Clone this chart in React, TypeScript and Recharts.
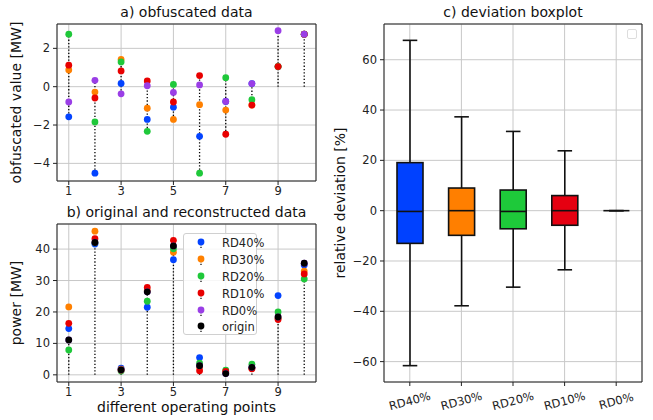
import React from 'react';
import {
  Bar,
  CartesianGrid,
  ComposedChart,
  ReferenceLine,
  Scatter,
  ScatterChart,
  XAxis,
  YAxis,
} from 'recharts';

// operating points 1..10
const points = [1, 2, 3, 4, 5, 6, 7, 8, 9, 10];

const seriesNames = ['RD40%', 'RD30%', 'RD20%', 'RD10%', 'RD0%'];
const seriesColors = ['#0343ff', '#ff8000', '#1fc83a', '#e80000', '#9a3ee6'];

// a) obfuscated data [MW]
const obfRD40 = [-1.57, -4.51, 0.17, -1.71, -1.07, -2.59, -0.77, 0.16, 1.05, 2.74];
const obfRD30 = [0.87, -0.28, 1.42, -1.12, -1.71, -0.94, -1.22, -0.96, 1.05, 2.74];
const obfRD20 = [2.74, -1.84, 1.29, -2.33, 0.12, -4.51, 0.47, -0.68, 1.05, 2.74];
const obfRD10 = [1.12, -0.59, 0.82, 0.3, -0.8, 0.58, -2.48, -0.96, 1.05, 2.74];
const obfRD0 = [-0.8, 0.33, -0.37, 0.05, -0.3, 0.09, -0.77, 0.16, 2.92, 2.74];

// b) original and reconstructed data [MW]
const recRD40 = [14.7, 41.6, 2.1, 21.5, 36.6, 5.5, 0.6, 2.2, 25.2, 34.9];
const recRD30 = [21.6, 45.7, 1.8, 26.8, 39.0, 2.5, 0.8, 2.0, 18.0, 33.0];
const recRD20 = [7.9, 42.0, 1.2, 23.4, 40.1, 3.7, 1.5, 3.4, 20.0, 30.5];
const recRD10 = [16.4, 43.3, 1.5, 27.8, 42.8, 1.3, 1.1, 1.9, 17.6, 32.1];
const recRD0 = [11.1, 42.1, 1.6, 26.4, 41.0, 2.9, 0.4, 2.4, 18.4, 35.5];
const origin = [11.1, 42.1, 1.6, 26.4, 41.0, 2.9, 0.4, 2.4, 18.4, 35.5];

// c) deviation boxplot [%]
const boxLabels = ['RD40%', 'RD30%', 'RD20%', 'RD10%', 'RD0%'];
const boxColors = ['#0041ff', '#ff7f00', '#1ec93a', '#e50011', '#ffffff'];
const whiskerLow = [-61.6, -37.8, -30.4, -23.5, 0];
const quart1 = [-13.0, -9.8, -7.2, -5.8, 0];
const medians = [-0.3, 0, -0.3, 0, 0];
const quart3 = [19.1, 9.0, 8.2, 6.0, 0];
const whiskerHigh = [67.7, 37.3, 31.5, 23.8, 0];

const FONT = '"DejaVu Sans", sans-serif';
const AXIS = '#222';
const GRID = '#c8c8c8';
const TICK = { fill: '#222', fontSize: 11.5 };
const minus = (v: number) => String(v).replace('-', '\u2212');

const toXY = (vals: number[]) => points.map((p, i) => ({ x: p, y: vals[i] }));

const dot = (color: string) => (p: any) =>
  <circle cx={p.cx} cy={p.cy} r={3.4} fill={color} />;

const obfSeries = [obfRD40, obfRD30, obfRD20, obfRD10, obfRD0];
const recSeries = [recRD40, recRD30, recRD20, recRD10, recRD0];

// stem extents (from 0 to the extreme values)
const obfStems = points.map((p, i) => {
  const vals = obfSeries.map(s => s[i]);
  return { x: p, lo: Math.min(0, ...vals), hi: Math.max(0, ...vals) };
});

const frameAxes = (domX: [number, number], domY: [number, number]) => [
  <XAxis key="top" xAxisId="top" orientation="top" mirror type="number"
    domain={domX} tick={false} tickLine={false} axisLine={{ stroke: AXIS }} />,
  <YAxis key="right" yAxisId="right" orientation="right" mirror type="number"
    domain={domY} tick={false} tickLine={false} axisLine={{ stroke: AXIS }} />,
];

const ObfuscatedChart = () => (
  <ScatterChart width={330} height={200} margin={{ top: 24, right: 14, bottom: 0, left: 0 }}>
    <CartesianGrid stroke={GRID} strokeWidth={1} />
    <XAxis type="number" dataKey="x" domain={[0.55, 10.45]} ticks={[1, 3, 5, 7, 9]}
      height={19} tickSize={4} tickMargin={2} tick={TICK}
      axisLine={{ stroke: AXIS }} tickLine={{ stroke: AXIS }} allowDataOverflow />
    <YAxis type="number" dataKey="y" domain={[-4.92, 3.27]} ticks={[-4, -2, 0, 2]}
      width={57} tickSize={4} tickMargin={3} tick={TICK} tickFormatter={minus}
      axisLine={{ stroke: AXIS }} tickLine={{ stroke: AXIS }} allowDataOverflow />
    {frameAxes([0, 1], [0, 1])}
    {obfSeries.map((s, k) => (
      <Scatter key={seriesNames[k]} name={seriesNames[k]} data={toXY(s)}
        shape={dot(seriesColors[k])} isAnimationActive={false} />
    ))}
    {obfStems.map(st => (
      <ReferenceLine key={st.x} segment={[{ x: st.x, y: st.lo }, { x: st.x, y: st.hi }]}
        stroke="#000" strokeWidth={1.3} strokeDasharray="1.3 2" ifOverflow="visible" />
    ))}
  </ScatterChart>
);

const ReconstructedChart = () => (
  <ScatterChart width={330} height={220} margin={{ top: 24, right: 14, bottom: 0, left: 0 }}>
    <CartesianGrid stroke={GRID} strokeWidth={1} />
    <XAxis type="number" dataKey="x" domain={[0.55, 10.45]} ticks={[1, 3, 5, 7, 9]}
      height={38} tickSize={4} tickMargin={2} tick={TICK}
      axisLine={{ stroke: AXIS }} tickLine={{ stroke: AXIS }} allowDataOverflow />
    <YAxis type="number" dataKey="y" domain={[-2.28, 47.98]} ticks={[0, 10, 20, 30, 40]}
      width={57} tickSize={4} tickMargin={3} tick={TICK}
      axisLine={{ stroke: AXIS }} tickLine={{ stroke: AXIS }} allowDataOverflow />
    {frameAxes([0, 1], [0, 1])}
    {recSeries.map((s, k) => (
      <Scatter key={seriesNames[k]} name={seriesNames[k]} data={toXY(s)}
        shape={dot(seriesColors[k])} isAnimationActive={false} />
    ))}
    {points.map((p, i) => (
      <ReferenceLine key={p} segment={[{ x: p, y: 0 }, { x: p, y: origin[i] }]}
        stroke="#000" strokeWidth={1.3} strokeDasharray="1.3 2" ifOverflow="visible" />
    ))}
    <Scatter name="origin" data={toXY(origin)} shape={dot('#000')} isAnimationActive={false} />
  </ScatterChart>
);

const boxData = boxLabels.map((name, i) => ({
  name,
  low: whiskerLow[i],
  q1: quart1[i],
  med: medians[i],
  q3: quart3[i],
  high: whiskerHigh[i],
  color: boxColors[i],
}));

const BoxShape = (props: any) => {
  const { x, y, width, height, payload } = props;
  if (x == null || y == null) return null;
  const top = Math.min(y, y + height);
  const bot = Math.max(y, y + height);
  const span = payload.high - payload.low;
  const toPx = (v: number) => (span === 0 ? top : bot - ((v - payload.low) / span) * (bot - top));
  const cx = x + width / 2;
  const cap = width * 0.28;
  const yQ1 = toPx(payload.q1);
  const yQ3 = toPx(payload.q3);
  const yMed = toPx(payload.med);
  return (
    <g stroke="#111" strokeWidth={1.6}>
      <line x1={cx} x2={cx} y1={top} y2={yQ3} />
      <line x1={cx} x2={cx} y1={yQ1} y2={bot} />
      <line x1={cx - cap} x2={cx + cap} y1={top} y2={top} />
      <line x1={cx - cap} x2={cx + cap} y1={bot} y2={bot} />
      {yQ1 - yQ3 > 0 && (
        <rect x={x} y={yQ3} width={width} height={yQ1 - yQ3} fill={payload.color} />
      )}
      <line x1={x} x2={x + width} y1={yMed} y2={yMed} />
    </g>
  );
};

const RotTick = (props: any) => {
  const { x, y, payload } = props;
  return (
    <g transform={`translate(${x},${y + 13})`}>
      <text textAnchor="middle" dominantBaseline="central" transform="rotate(-15)"
        fill="#222" fontSize={11.5}>
        {payload.value}
      </text>
    </g>
  );
};

const BoxChart = () => (
  <ComposedChart width={323} height={420} data={boxData}
    margin={{ top: 24, right: 11, bottom: 0, left: 0 }}>
    <CartesianGrid stroke={GRID} strokeWidth={1} />
    <XAxis type="category" dataKey="name" height={38} tickSize={4} tickMargin={2} interval={0}
      tick={<RotTick />} axisLine={{ stroke: AXIS }} tickLine={{ stroke: AXIS }} />
    <YAxis type="number" domain={[-68.1, 74.2]} ticks={[-60, -40, -20, 0, 20, 40, 60]}
      width={54} tickSize={4} tickMargin={3} tick={TICK} tickFormatter={minus}
      axisLine={{ stroke: AXIS }} tickLine={{ stroke: AXIS }} allowDataOverflow />
    {frameAxes([0, 1], [0, 1])}
    <Bar dataKey={(d: any) => [d.low, d.high]} barSize={26} shape={<BoxShape />}
      isAnimationActive={false} />
  </ComposedChart>
);

const legendItems = [
  ...seriesNames.map((n, k) => ({ name: n, color: seriesColors[k] })),
  { name: 'origin', color: '#000' },
];

const LegendBox = () => (
  <div style={{
    position: 'absolute', left: 183, top: 233, width: 74, height: 102,
    border: '1px solid #d0d0d0', borderRadius: 3, background: 'rgba(255,255,255,0.85)',
    boxSizing: 'border-box', paddingTop: 1,
  }}>
    {legendItems.map(it => (
      <div key={it.name} style={{ display: 'flex', alignItems: 'center', height: 16.8 }}>
        <svg width={34} height={16} style={{ flex: 'none' }}>
          <line x1={17} x2={17} y1={9} y2={14} stroke="#000" strokeWidth={1.2} strokeDasharray="1.3 1.5" />
          <circle cx={17} cy={7} r={3.4} fill={it.color} />
        </svg>
        <span style={{ fontSize: 11.5, color: '#222', marginLeft: 4 }}>{it.name}</span>
      </div>
    ))}
  </div>
);

export default function App() {
  return (
    <div style={{ position: 'absolute', left: 0, top: 0, width: 653, height: 420, background: '#fff', fontFamily: FONT }}>
      <div style={{ position: 'absolute', left: 0, top: 0 }}><ObfuscatedChart /></div>
      <div style={{ position: 'absolute', left: 0, top: 200 }}><ReconstructedChart /></div>
      <div style={{ position: 'absolute', left: 330, top: 0 }}><BoxChart /></div>
      <LegendBox />
      <div style={{
        position: 'absolute', left: 627, top: 29, width: 10, height: 10,
        border: '1px solid #ddd', borderRadius: 2, boxSizing: 'border-box',
      }} />
      <svg width={653} height={420} style={{ position: 'absolute', left: 0, top: 0, pointerEvents: 'none' }}
        fontFamily={FONT} fill="#111">
        <text x={186.5} y={17} textAnchor="middle" fontSize={14}>a) obfuscated data</text>
        <text x={186.5} y={217} textAnchor="middle" fontSize={14}>b) original and reconstructed data</text>
        <text x={513} y={17} textAnchor="middle" fontSize={14}>c) deviation boxplot</text>
        <text x={186.5} y={412} textAnchor="middle" fontSize={14}>different operating points</text>
        <text transform="translate(21,102.5) rotate(-90)" textAnchor="middle" fontSize={14}>obfuscated value [MW]</text>
        <text transform="translate(21,303) rotate(-90)" textAnchor="middle" fontSize={14}>power [MW]</text>
        <text transform="translate(345,203) rotate(-90)" textAnchor="middle" fontSize={14}>relative deviation [%]</text>
      </svg>
    </div>
  );
}
